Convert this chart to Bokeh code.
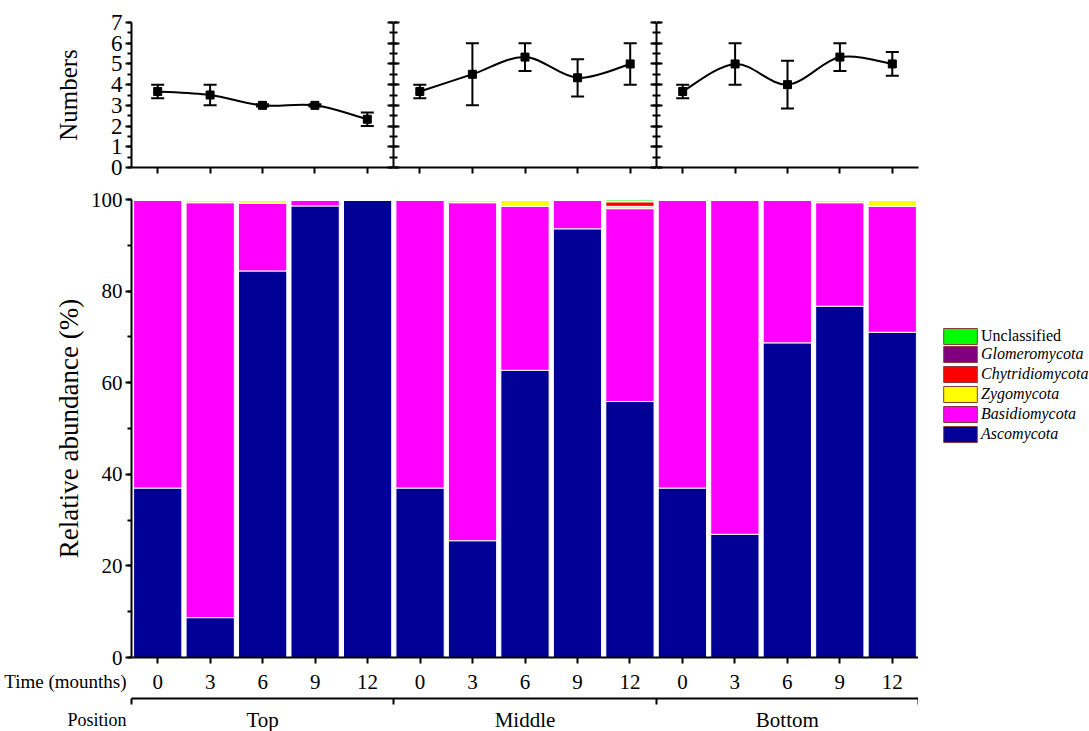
from bokeh.plotting import figure
from bokeh.layouts import column, row
from bokeh.models import (ColumnDataSource, Range1d, LinearAxis, FixedTicker,
                          SingleIntervalTicker, Whisker, TeeHead, Legend,
                          LegendItem, CustomJSTickFormatter)
from bokeh.core.properties import value
from bokeh.embed import file_html
from bokeh.resources import INLINE

FONT = "Liberation Serif"

# ---------------- data ----------------
positions = ["Top", "Middle", "Bottom"]
times = ["0", "3", "6", "9", "12"]
time_title = "Time (mounths)"
position_title = "Position"

top_mean = [3.67, 3.5, 3.0, 3.0, 2.33]
top_err = [0.33, 0.5, 0.05, 0.05, 0.33]
middle_mean = [3.67, 4.5, 5.33, 4.33, 5.0]
middle_err = [0.33, 1.5, 0.67, 0.9, 1.0]
bottom_mean = [3.67, 5.0, 4.0, 5.33, 5.0]
bottom_err = [0.33, 1.0, 1.15, 0.67, 0.57]

phyla = ["Ascomycota", "Basidiomycota", "Zygomycota", "Chytridiomycota",
         "Glomeromycota", "Unclassified"]
colors = ["#000096", "#ff00ff", "#ffff00", "#ff0000", "#800080", "#00ff00"]

ascomycota = [37.0, 8.7, 84.4, 98.6, 99.8,
              37.0, 25.5, 62.7, 93.6, 55.9,
              37.0, 26.9, 68.7, 76.7, 71.0]
basidiomycota = [62.8, 90.6, 14.8, 1.2, 0.1,
                 62.8, 73.8, 35.8, 6.3, 42.1,
                 62.9, 73.0, 31.2, 22.6, 27.5]
zygomycota = [0.1, 0.6, 0.6, 0.1, 0.0,
              0.1, 0.6, 1.3, 0.0, 0.5,
              0.0, 0.0, 0.0, 0.5, 1.3]
chytridiomycota = [0.0, 0.0, 0.0, 0.0, 0.0,
                   0.0, 0.0, 0.0, 0.0, 1.0,
                   0.0, 0.0, 0.0, 0.0, 0.0]
glomeromycota = [0.0, 0.0, 0.0, 0.0, 0.0,
                 0.0, 0.0, 0.0, 0.0, 0.1,
                 0.0, 0.0, 0.0, 0.0, 0.0]
unclassified = [0.0, 0.0, 0.0, 0.0, 0.0,
                0.0, 0.0, 0.0, 0.0, 0.3,
                0.0, 0.0, 0.0, 0.0, 0.0]

n_groups = len(positions)
n_t = len(times)
n_bars = n_groups * n_t
x_centers = [i + 0.5 for i in range(n_bars)]

LEFT = 131
RIGHT = 171
FW = [262, 263, 262]
PLOT_W = sum(FW)
NAN = float("nan")
PB_BOTTOM = 12
PB_H = 20 + 458 + PB_BOTTOM


def style_axis(ax, size="23px"):
    ax.axis_line_width = 2
    ax.major_tick_line_width = 2
    ax.minor_tick_line_width = 2
    ax.major_label_text_font = FONT
    ax.major_label_text_font_size = size
    ax.axis_label_text_font = FONT
    ax.axis_label_text_font_style = "normal"
    ax.axis_label_text_color = "black"
    ax.axis_line_color = "black"
    ax.major_tick_line_color = "black"
    ax.minor_tick_line_color = "black"
    ax.major_label_text_color = "black"


def hide_labels(ax):
    ax.formatter = CustomJSTickFormatter(code="return ''")
    ax.major_label_text_font_size = "0px"
    ax.major_label_standoff = 0
    ax.axis_label = None


def inner_ticks(ax):
    ax.major_tick_in = 6
    ax.major_tick_out = 0
    ax.minor_tick_in = 4
    ax.minor_tick_out = 0


def clean(p):
    p.outline_line_color = None
    p.xgrid.grid_line_color = None
    p.ygrid.grid_line_color = None
    p.background_fill_color = None
    p.border_fill_color = None


def bezier_source(xs, ys):
    n = len(xs)
    d = dict(x0=[], y0=[], x1=[], y1=[], cx0=[], cy0=[], cx1=[], cy1=[])
    for i in range(n - 1):
        xm1, ym1 = (xs[i - 1], ys[i - 1]) if i > 0 else (xs[i], ys[i])
        xp2, yp2 = (xs[i + 2], ys[i + 2]) if i + 2 < n else (xs[i + 1], ys[i + 1])
        d["x0"].append(xs[i]); d["y0"].append(ys[i])
        d["x1"].append(xs[i + 1]); d["y1"].append(ys[i + 1])
        d["cx0"].append(xs[i] + (xs[i + 1] - xm1) / 6.0)
        d["cy0"].append(ys[i] + (ys[i + 1] - ym1) / 6.0)
        d["cx1"].append(xs[i + 1] - (xp2 - xs[i]) / 6.0)
        d["cy1"].append(ys[i + 1] - (yp2 - ys[i]) / 6.0)
    return ColumnDataSource(d)


# ---------------- top panels ----------------
means = [top_mean, middle_mean, bottom_mean]
errs = [top_err, middle_err, bottom_err]
top_figs = []
for k in range(n_groups):
    xs = [k * n_t + i + 0.5 for i in range(n_t)]
    p = figure(frame_width=FW[k], frame_height=145,
               x_range=Range1d(k * n_t, (k + 1) * n_t), y_range=Range1d(0, 7),
               output_backend="svg", toolbar_location=None,
               min_border_left=LEFT if k == 0 else 0,
               min_border_right=RIGHT if k == n_groups - 1 else 0,
               min_border_top=22, min_border_bottom=12)
    clean(p)

    xa = p.xaxis[0]
    style_axis(xa)
    xa.ticker = FixedTicker(ticks=xs)
    hide_labels(xa)
    xa.major_tick_out = 6
    xa.major_tick_in = 0

    ya = p.yaxis[0]
    style_axis(ya)
    ya.ticker = SingleIntervalTicker(interval=1, num_minor_ticks=2)
    if k == 0:
        ya.axis_label = "Numbers"
        ya.axis_label_text_font_size = "25px"
        ya.axis_label_standoff = 26
        ya.major_label_standoff = 3
        ya.major_tick_out = 6
        ya.major_tick_in = 0
        ya.minor_tick_out = 4
        ya.minor_tick_in = 0
    else:
        hide_labels(ya)
        inner_ticks(ya)
    if k < n_groups - 1:
        ra = LinearAxis(ticker=SingleIntervalTicker(interval=1, num_minor_ticks=2))
        style_axis(ra)
        hide_labels(ra)
        inner_ticks(ra)
        p.add_layout(ra, "right")

    src = ColumnDataSource(dict(x=xs, y=means[k],
                                upper=[m + e for m, e in zip(means[k], errs[k])],
                                lower=[m - e for m, e in zip(means[k], errs[k])]))
    p.bezier(x0="x0", y0="y0", x1="x1", y1="y1", cx0="cx0", cy0="cy0",
             cx1="cx1", cy1="cy1", source=bezier_source(xs, means[k]),
             line_color="black", line_width=2)
    w = Whisker(base="x", upper="upper", lower="lower", source=src,
                line_color="black", line_width=2,
                upper_head=TeeHead(size=13, line_width=2, line_color="black"),
                lower_head=TeeHead(size=13, line_width=2, line_color="black"))
    p.add_layout(w)
    p.scatter("x", "y", source=src, marker="square", size=8,
              fill_color="black", line_color="black")
    top_figs.append(p)

# ---------------- bottom stacked bars ----------------
data = dict(x=x_centers, Ascomycota=ascomycota, Basidiomycota=basidiomycota,
            Zygomycota=zygomycota, Chytridiomycota=chytridiomycota,
            Glomeromycota=glomeromycota, Unclassified=unclassified)
bsrc = ColumnDataSource(data)

pb = figure(frame_width=PLOT_W, frame_height=458,
            x_range=Range1d(0, n_bars), y_range=Range1d(0, 100),
            output_backend="svg", toolbar_location=None,
            min_border_left=LEFT, min_border_right=0,
            min_border_top=20, min_border_bottom=PB_BOTTOM)
clean(pb)

pb.vbar_stack(phyla, x="x", width=0.92, source=bsrc,
              fill_color=colors, line_color="white", line_width=1)

ya = pb.yaxis[0]
style_axis(ya, "21px")
ya.ticker = SingleIntervalTicker(interval=20, num_minor_ticks=2)
ya.major_tick_out = 6
ya.major_tick_in = 0
ya.minor_tick_out = 4
ya.minor_tick_in = 0
ya.major_label_standoff = 3
ya.axis_label = "Relative abundance (%)"
ya.axis_label_text_font_size = "27px"
ya.axis_label_standoff = 4

xa = pb.xaxis[0]
style_axis(xa, "21px")
xa.ticker = FixedTicker(ticks=x_centers)
hide_labels(xa)
xa.major_tick_out = 6
xa.major_tick_in = 0

# ---------------- legend panel ----------------
pl = figure(width=RIGHT, height=PB_H, x_range=Range1d(0, 1),
            y_range=Range1d(0, 1), output_backend="svg", toolbar_location=None,
            x_axis_location=None, y_axis_location=None, min_border=0)
clean(pl)
proxies = {}
for name, c in zip(phyla, colors):
    proxies[name] = pl.vbar(x=[NAN], top=[NAN], width=0.9, fill_color=c,
                            line_color="#8b3a3a", line_width=1)

legA = Legend(items=[LegendItem(label="Unclassified", renderers=[proxies["Unclassified"]])],
              location=(21, 311))
legB = Legend(items=[LegendItem(label=n, renderers=[proxies[n]])
                     for n in ["Glomeromycota", "Chytridiomycota", "Zygomycota",
                               "Basidiomycota", "Ascomycota"]],
              location=(21, 213))
for lg, style in [(legA, "normal"), (legB, "italic")]:
    lg.glyph_width = 42
    lg.glyph_height = 20
    lg.label_height = 16
    lg.spacing = 0
    lg.padding = 0
    lg.margin = 0
    lg.label_standoff = 0
    lg.border_line_color = None
    lg.background_fill_alpha = 0
    lg.label_text_font = FONT
    lg.label_text_font_size = "16px"
    lg.label_text_font_style = style
    lg.label_text_color = "black"
    pl.add_layout(lg)

# ---------------- category strips below the bars ----------------
x_start = -LEFT * n_bars / PLOT_W

s1 = figure(width=LEFT + PLOT_W, height=27, x_range=Range1d(x_start, n_bars),
            y_range=Range1d(0, 1), output_backend="svg", toolbar_location=None,
            x_axis_location=None, y_axis_location=None, min_border=0)
clean(s1)
tsrc = ColumnDataSource(dict(x=x_centers, y=[0.55] * n_bars,
                             text=[times[i % n_t] for i in range(n_bars)]))
s1.text(x="x", y="y", text="text", source=tsrc, text_font=value(FONT),
        text_font_size="21px", text_align="center", text_baseline="middle",
        text_color="black")
s1.text(x=[0], y=[0.55], text=[time_title], x_offset=-5, text_font=value(FONT),
        text_font_size="19px", text_align="right", text_baseline="middle",
        text_color="black")

s2 = figure(width=LEFT + PLOT_W, height=35, x_range=Range1d(x_start, n_bars),
            y_range=Range1d(0, 1), output_backend="svg", toolbar_location=None,
            x_axis_location=None, y_axis_location=None, min_border=0,
            min_border_top=2)
clean(s2)
bracket = LinearAxis(ticker=FixedTicker(ticks=[k * n_t for k in range(n_groups + 1)]),
                     bounds=(0, n_bars))
style_axis(bracket)
hide_labels(bracket)
bracket.major_tick_in = 6
bracket.major_tick_out = 0
bracket.minor_tick_in = 0
bracket.minor_tick_out = 0
s2.add_layout(bracket, "above")
gsrc = ColumnDataSource(dict(x=[k * n_t + n_t / 2 for k in range(n_groups)],
                             y=[0.36] * n_groups, text=positions))
s2.text(x="x", y="y", text="text", source=gsrc, text_font=value(FONT),
        text_font_size="21px", text_align="center", text_baseline="middle",
        text_color="black")
s2.text(x=[0], y=[0.36], text=[position_title], x_offset=-5, text_font=value(FONT),
        text_font_size="18px", text_align="right", text_baseline="middle",
        text_color="black")

layout = column(row(*top_figs, spacing=0), row(pb, pl, spacing=0), s1, s2,
                spacing=0)
open("out.html", "w").write(file_html(layout, INLINE))
